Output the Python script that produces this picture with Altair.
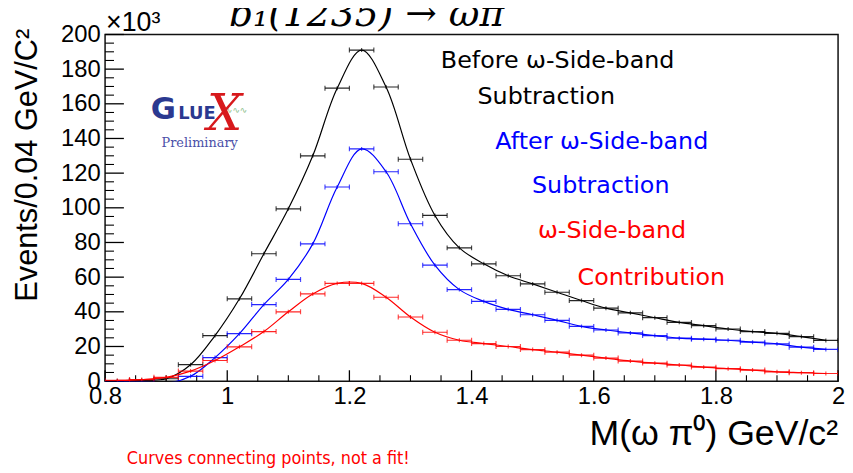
import altair as alt
import pandas as pd

# ---- data (values in units of 10^3 events) ----
mass = [0.82, 0.86, 0.90, 0.94, 0.98, 1.02, 1.06, 1.10, 1.14, 1.18,
        1.22, 1.26, 1.30, 1.34, 1.38, 1.42, 1.46, 1.50, 1.54, 1.58,
        1.62, 1.66, 1.70, 1.74, 1.78, 1.82, 1.86, 1.90, 1.94, 1.98]
before = [0.3, 0.6, 1.4, 9.5, 26.3, 47.5, 73.5, 99.4, 130.0, 169.0,
          191.0, 169.7, 128.0, 95.6, 76.9, 67.7, 60.8, 56.1, 51.3, 46.5,
          42.1, 39.4, 36.6, 33.9, 32.0, 30.1, 28.6, 27.6, 25.7, 23.5]
after = [-0.2, -0.4, -1.2, 2.8, 13.6, 27.4, 44.2, 58.7, 79.2, 112.0,
         134.0, 120.8, 90.8, 66.9, 52.8, 46.0, 41.4, 38.3, 35.1, 31.6,
         29.5, 27.8, 26.3, 24.8, 24.2, 23.6, 22.5, 21.5, 19.6, 18.3]
sideband = [0.4, 0.9, 2.2, 5.8, 11.9, 19.8, 28.6, 40.0, 50.3, 56.4,
            56.4, 48.4, 37.0, 28.2, 23.6, 21.7, 20.0, 18.2, 16.7, 15.0,
            13.3, 11.6, 10.4, 9.3, 8.1, 7.2, 6.4, 5.4, 4.9, 4.4]
bin_half = 0.02

x_major = [0.8, 1.0, 1.2, 1.4, 1.6, 1.8, 2.0]
x_minor = [0.85, 0.9, 0.95, 1.05, 1.1, 1.15, 1.25, 1.3, 1.35, 1.45, 1.5, 1.55,
           1.65, 1.7, 1.75, 1.85, 1.9, 1.95]
y_major = [0, 20, 40, 60, 80, 100, 120, 140, 160, 180, 200]
y_minor = [5, 10, 15, 25, 30, 35, 45, 50, 55, 65, 70, 75, 85, 90, 95, 105, 110, 115,
           125, 130, 135, 145, 150, 155, 165, 170, 175, 185, 190, 195]

W, H = 740, 350
XD = [0.8, 2.0]
YD = [0, 200]

xs = alt.Scale(domain=XD, nice=False, zero=False)
ys = alt.Scale(domain=YD, nice=False, zero=False)

SANS = "Liberation Sans"

xa = alt.Axis(values=x_major, format="~g", ticks=False, domain=False, grid=False,
              labelFont=SANS, labelFontSize=24, labelColor="#000", labelPadding=4,
              labelFlush=False, labelOverlap=False, title=None)
ya = alt.Axis(values=y_major, ticks=False, domain=False, grid=False,
              labelFont=SANS, labelFontSize=24, labelColor="#000", labelPadding=5,
              labelFlush=False, labelOverlap=False, title=None)


def X(field):
    return alt.X(field, type="quantitative", scale=xs, axis=xa)


def Y(field):
    return alt.Y(field, type="quantitative", scale=ys, axis=ya)


def series_layers(vals, color):
    df = pd.DataFrame({"m": mass, "v": vals})
    df["lo"] = df["m"] - bin_half
    df["hi"] = df["m"] + bin_half
    base = alt.Chart(df)
    line = base.mark_line(color=color, strokeWidth=1.2, interpolate="catmull-rom", clip=True).encode(
        x=X("m"), y=Y("v"))
    bar = base.mark_rule(color=color, strokeWidth=1.2, opacity=0.85, clip=True).encode(
        x=X("lo"), x2="hi:Q", y=Y("v"))
    capl = base.mark_tick(color=color, orient="vertical", size=5, thickness=1.2, clip=True).encode(
        x=X("lo"), y=Y("v"))
    capr = base.mark_tick(color=color, orient="vertical", size=5, thickness=1.2, clip=True).encode(
        x=X("hi"), y=Y("v"))
    mid = base.mark_tick(color=color, orient="vertical", size=4, thickness=1.2, clip=True).encode(
        x=X("m"), y=Y("v"))
    return [line, bar, capl, capr, mid]


# inward ticks
ytmaj = alt.Chart(pd.DataFrame({"t": y_major})).mark_rule(color="#000", strokeWidth=1.3).encode(
    y=Y("t"), x=alt.value(0), x2=alt.value(19))
ytmin = alt.Chart(pd.DataFrame({"t": y_minor})).mark_rule(color="#000", strokeWidth=1.1).encode(
    y=Y("t"), x=alt.value(0), x2=alt.value(9))
xtmaj = alt.Chart(pd.DataFrame({"t": x_major})).mark_rule(color="#000", strokeWidth=1.3).encode(
    x=X("t"), y=alt.value(H), y2=alt.value(H - 11))
xtmin = alt.Chart(pd.DataFrame({"t": x_minor})).mark_rule(color="#000", strokeWidth=1.1).encode(
    x=X("t"), y=alt.value(H), y2=alt.value(H - 6))


def label(text, x, y, size, color="#000", font=SANS, align="left", angle=0, style="normal",
          weight="normal", baseline="alphabetic"):
    return alt.Chart(pd.DataFrame({"a": [0]})).mark_text(
        text=text, fontSize=size, color=color, font=font, align=align, angle=angle,
        fontStyle=style, fontWeight=weight, baseline=baseline
    ).encode(x=alt.value(x), y=alt.value(y))


LEG = "DejaVu Sans"
texts = [
    label("b\u2081(1235) \u2192 \u03c9\u03c0", 264, -9, 38, font="DejaVu Serif", align="center", style="italic"),
    label("\u00d710\u00b3", 1, -3, 27),
    label("Events/0.04 GeV/C\u00b2", -78, 132, 31, align="center", angle=270, baseline="middle"),
    label("M(\u03c9 \u03c0\u2070) GeV/c\u00b2", 740, 414, 36, align="right"),
    label("Curves connecting points, not a fit!", 22, 434, 18, color="#ff0000",
          font="DejaVu Sans Condensed, Roboto Condensed, Liberation Sans"),
    label("Before \u03c9-Side-band", 339, 34, 24, font=LEG),
    label("Subtraction", 376, 70.5, 24, font=LEG),
    label("After \u03c9-Side-band", 394, 115.5, 24, color="#0000ff", font=LEG),
    label("Subtraction", 431, 160.5, 24, color="#0000ff", font=LEG),
    label("\u03c9-Side-band", 437, 205.5, 24, color="#ff0000", font=LEG),
    label("Contribution", 477, 252.5, 24, color="#ff0000", font=LEG),
    # GlueX logo
    label("G", 46, 85.5, 31, color="#2b3990", font="DejaVu Sans", weight="bold"),
    label("LUE", 74, 85.5, 18, color="#2b3990", font="DejaVu Sans", weight="bold"),
    label("\u223f\u223f\u223f", 121, 79, 9, color="#8cc08c", font="DejaVu Sans"),
    label("X", 103, 96, 50, color="#d7191c", font="DejaVu Serif", style="italic"),
    label("Preliminary", 57, 113.5, 13, color="#4a4fa8", font="DejaVu Serif"),
]

layers = [ytmaj, ytmin, xtmaj, xtmin]
layers += series_layers(before, "#000000")
layers += series_layers(after, "#0000ff")
layers += series_layers(sideband, "#ff0000")
layers += texts

chart = alt.layer(*layers).properties(
    width=W, height=H, autosize="none",
    padding={"left": 98, "top": 24.5, "right": 7, "bottom": 90},
    background="white",
).configure_view(stroke="#111", strokeWidth=1.5)

chart.save("out.html", embed_options={"renderer": "svg", "actions": False})
